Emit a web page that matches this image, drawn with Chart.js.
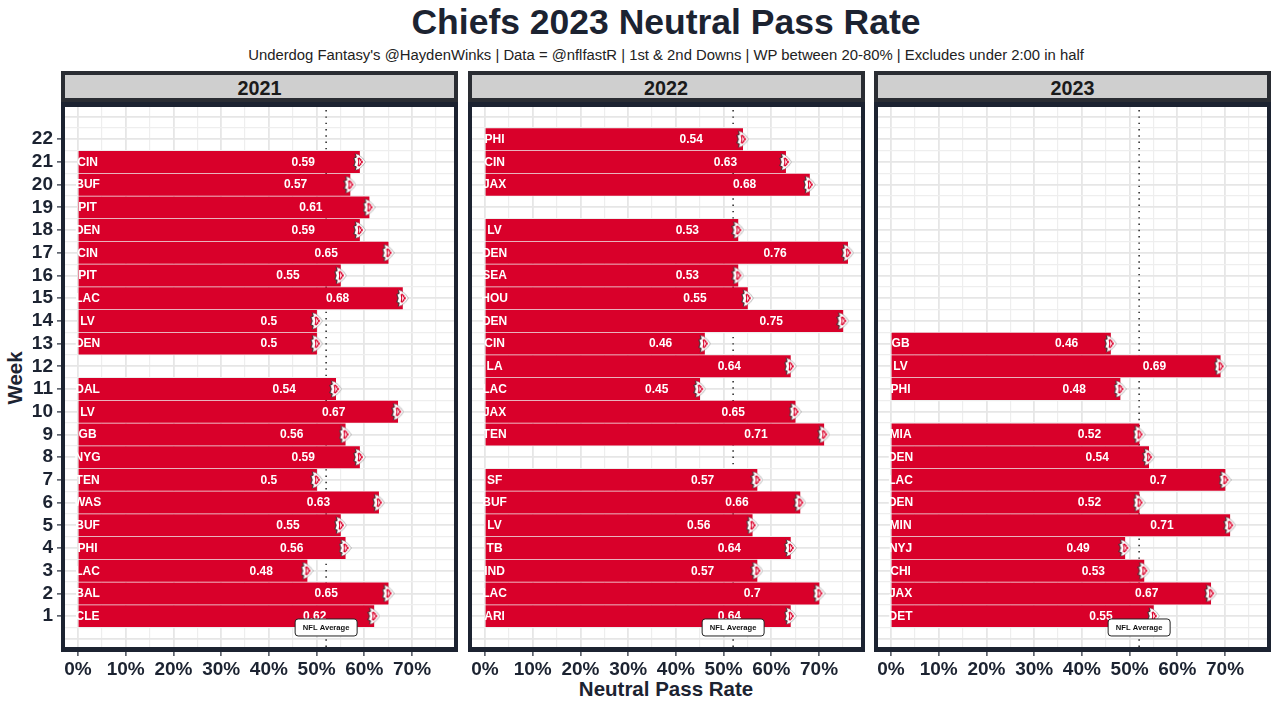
<!DOCTYPE html>
<html lang="en">
<head>
<meta charset="UTF-8">
<title>Chiefs 2023 Neutral Pass Rate</title>
<script src="https://cdn.jsdelivr.net/npm/chart.js"></script>
<style>
  html, body { margin: 0; padding: 0; background: #fff; width: 1280px; height: 709px; overflow: hidden; }
  body { font-family: 'Liberation Sans', Arial, sans-serif; color: #1c2331; position: relative; }
  canvas { position: absolute; top: 0; }
  .txt { position: absolute; white-space: nowrap; text-align: center; }
  #title { left: 0; width: 1332px; top: 0; font-size: 35.5px; line-height: 44px; font-weight: 700; }
  #subtitle { left: 0; width: 1332px; top: 46px; font-size: 14.85px; line-height: 18px; color: #222; }
  #xlabel { left: 466px; width: 400px; top: 678px; font-size: 20.5px; line-height: 22px; font-weight: 700; }
  #ylabel { left: 15px; top: 378px; font-size: 20.5px; line-height: 22px; font-weight: 700; transform: translate(-50%, -50%) rotate(-90deg); }
  .strip { position: absolute; top: 71px; height: 23px; width: 389px; border: 4px solid #2a2d33; background: #cfcfcf;
           font-size: 19.8px; line-height: 26px; font-weight: 700; text-align: center; color: #1a1a1a; }
  .frame { position: absolute; top: 102px; height: 540px; width: 389px; border: 4px solid #1c2331; border-top-width: 5px; border-bottom-width: 5px; pointer-events: none; }
</style>
</head>
<body>
<div class="txt" id="title">Chiefs 2023 Neutral Pass Rate</div>
<div class="txt" id="subtitle">Underdog Fantasy's @HaydenWinks | Data = @nflfastR | 1st &amp; 2nd Downs | WP between 20-80% | Excludes under 2:00 in half</div>
<div class="txt" id="xlabel">Neutral Pass Rate</div>
<div class="txt" id="ylabel">Week</div>

<script>
const weeks2021 = [21, 20, 19, 18, 17, 16, 15, 14, 13, 11, 10, 9, 8, 7, 6, 5, 4, 3, 2, 1];
const opp2021 = ['CIN', 'BUF', 'PIT', 'DEN', 'CIN', 'PIT', 'LAC', 'LV', 'DEN', 'DAL', 'LV', 'GB', 'NYG', 'TEN', 'WAS', 'BUF', 'PHI', 'LAC', 'BAL', 'CLE'];
const rate2021 = [0.59, 0.57, 0.61, 0.59, 0.65, 0.55, 0.68, 0.5, 0.5, 0.54, 0.67, 0.56, 0.59, 0.5, 0.63, 0.55, 0.56, 0.48, 0.65, 0.62];

const weeks2022 = [22, 21, 20, 18, 17, 16, 15, 14, 13, 12, 11, 10, 9, 7, 6, 5, 4, 3, 2, 1];
const opp2022 = ['PHI', 'CIN', 'JAX', 'LV', 'DEN', 'SEA', 'HOU', 'DEN', 'CIN', 'LA', 'LAC', 'JAX', 'TEN', 'SF', 'BUF', 'LV', 'TB', 'IND', 'LAC', 'ARI'];
const rate2022 = [0.54, 0.63, 0.68, 0.53, 0.76, 0.53, 0.55, 0.75, 0.46, 0.64, 0.45, 0.65, 0.71, 0.57, 0.66, 0.56, 0.64, 0.57, 0.7, 0.64];

const weeks2023 = [13, 12, 11, 9, 8, 7, 6, 5, 4, 3, 2, 1];
const opp2023 = ['GB', 'LV', 'PHI', 'MIA', 'DEN', 'LAC', 'DEN', 'MIN', 'NYJ', 'CHI', 'JAX', 'DET'];
const rate2023 = [0.46, 0.69, 0.48, 0.52, 0.54, 0.7, 0.52, 0.71, 0.49, 0.53, 0.67, 0.55];

const nflAverage = 0.52;
const xTicks = [0, 0.05, 0.1, 0.15, 0.2, 0.25, 0.3, 0.35, 0.4, 0.45, 0.5, 0.55, 0.6, 0.65, 0.7, 0.75];
const yTicks = [];
for (let w = 0; w <= 23; w += 0.5) yTicks.push(w);

const xMin = -0.0273, xMax = 0.788;
const yMin = -0.36, yMax = 23.42;

const DARK = '#1c2331';
const RED = '#d9002a';

// arrowhead logo, drawn once and used as the point style
function makeLogo() {
  const c = document.createElement('canvas');
  c.width = 13; c.height = 18;
  const g = c.getContext('2d');
  // white arrowhead
  g.beginPath();
  g.moveTo(2.2, 0.8);
  g.lineTo(5.5, 1.8);
  g.quadraticCurveTo(10, 4.5, 12.4, 9);
  g.quadraticCurveTo(10, 13.5, 5.5, 16.2);
  g.lineTo(2.2, 17.2);
  g.lineTo(3.2, 13.8);
  g.lineTo(0.8, 12.8);
  g.lineTo(2.2, 9);
  g.lineTo(0.8, 5.2);
  g.lineTo(3.2, 4.2);
  g.closePath();
  g.fillStyle = '#fff';
  g.fill();
  g.strokeStyle = 'rgba(60,60,60,0.5)';
  g.lineWidth = 0.7;
  g.stroke();
  // dark tail edge
  g.beginPath();
  g.moveTo(2.2, 0.8);
  g.lineTo(3.2, 4.2);
  g.lineTo(0.8, 5.2);
  g.lineTo(2.2, 9);
  g.lineTo(0.8, 12.8);
  g.lineTo(3.2, 13.8);
  g.lineTo(2.2, 17.2);
  g.strokeStyle = '#333';
  g.lineWidth = 0.9;
  g.stroke();
  // red centre
  g.beginPath();
  g.moveTo(4.6, 5);
  g.lineTo(6.4, 4.5);
  g.quadraticCurveTo(8.8, 6.4, 10, 9);
  g.quadraticCurveTo(8.8, 11.6, 6.4, 13.5);
  g.lineTo(4.6, 13);
  g.lineTo(5.2, 9);
  g.closePath();
  g.fillStyle = RED;
  g.fill();
  // KC letters
  g.fillStyle = '#fff';
  g.fillRect(6.1, 6.4, 0.8, 5.2);
  g.beginPath();
  g.moveTo(7, 9);
  g.lineTo(8.6, 7.2);
  g.moveTo(7, 9);
  g.lineTo(8.6, 10.8);
  g.strokeStyle = '#fff';
  g.lineWidth = 0.8;
  g.stroke();
  return c;
}
const logo = makeLogo();

const labelsPlugin = {
  id: 'labels',
  afterDatasetsDraw(chart, args, opts) {
    const { ctx, scales: { x, y } } = chart;
    ctx.save();
    ctx.font = 'bold 12px "Liberation Sans"';
    ctx.textAlign = 'center';
    ctx.textBaseline = 'middle';
    ctx.fillStyle = '#fff';
    opts.weeks.forEach((w, i) => {
      const py = y.getPixelForValue(w) + 0.5;
      ctx.fillText(opts.opp[i], x.getPixelForValue(0.02), py);
      ctx.fillText(String(opts.rate[i]), x.getPixelForValue(opts.rate[i] * 0.8), py);
    });
    // NFL Average tag
    const bx = x.getPixelForValue(nflAverage);
    const by = y.getPixelForValue(0.5);
    ctx.beginPath();
    ctx.roundRect(bx - 31, by - 8.5, 62, 17, 3);
    ctx.fillStyle = '#fff';
    ctx.fill();
    ctx.strokeStyle = '#222';
    ctx.lineWidth = 1;
    ctx.stroke();
    ctx.fillStyle = '#111';
    ctx.font = 'bold 7.6px "Liberation Sans"';
    ctx.fillText('NFL Average', bx, by + 0.5);
    ctx.restore();
  }
};

function drawPanel(year, innerLeft, weeks, opp, rate, showWeeks) {
  const axisW = 65, innerW = 389;
  const canvasLeft = innerLeft - axisW;

  const strip = document.createElement('div');
  strip.className = 'strip';
  strip.style.left = (innerLeft - 4) + 'px';
  strip.textContent = year;

  const cv = document.createElement('canvas');
  cv.width = axisW + innerW + 1;
  cv.height = 709;
  cv.style.left = canvasLeft + 'px';

  const frame = document.createElement('div');
  frame.className = 'frame';
  frame.style.left = (innerLeft - 4) + 'px';

  document.body.append(cv, frame, strip);

  new Chart(cv.getContext('2d'), {
    type: 'bar',
    data: {
      datasets: [
        {
          type: 'scatter',
          data: weeks.map((w, i) => ({ x: rate[i], y: w })),
          pointStyle: logo,
          order: 0
        },
        {
          type: 'bar',
          data: weeks.map((w, i) => ({ x: rate[i], y: w })),
          backgroundColor: RED,
          barThickness: 21.3,
          order: 1
        },
        {
          type: 'scatter',
          showLine: true,
          data: [{ x: nflAverage, y: yMin }, { x: nflAverage, y: yMax }],
          borderColor: '#333',
          borderWidth: 1.6,
          borderDash: [1.4, 4.9],
          pointRadius: 0,
          order: 2
        }
      ]
    },
    options: {
      indexAxis: 'y',
      responsive: false,
      animation: false,
      layout: { autoPadding: false, padding: { top: 107, right: 1, left: 0, bottom: 0 } },
      plugins: {
        legend: { display: false },
        tooltip: { enabled: false },
        labels: { weeks, opp, rate }
      },
      scales: {
        x: {
          type: 'linear',
          min: xMin,
          max: xMax,
          afterBuildTicks: s => { s.ticks = xTicks.map(v => ({ value: v })); },
          afterFit: s => { s.height = 62; },
          grid: {
            color: c => Math.round(c.tick.value * 100) % 10 === 0 ? '#e6e6e6' : '#eeeeee',
            lineWidth: c => Math.round(c.tick.value * 100) % 10 === 0 ? 1.8 : 1.2,
            tickColor: c => Math.round(c.tick.value * 100) % 10 === 0 ? DARK : 'transparent',
            tickWidth: 1.2,
            tickLength: 9
          },
          border: { display: false },
          ticks: {
            autoSkip: false,
            maxRotation: 0,
            minRotation: 0,
            padding: 2,
            color: DARK,
            font: { family: 'Liberation Sans', size: 19, weight: 'bold' },
            callback: v => Math.round(v * 100) % 10 === 0 ? Math.round(v * 100) + '%' : ''
          }
        },
        y: {
          type: 'linear',
          min: yMin,
          max: yMax,
          offset: false,
          afterBuildTicks: s => { s.ticks = yTicks.map(v => ({ value: v })); },
          afterFit: s => { s.width = axisW; },
          grid: {
            offset: false,
            color: c => Number.isInteger(c.tick.value) ? '#e6e6e6' : '#eeeeee',
            lineWidth: c => Number.isInteger(c.tick.value) ? 1.8 : 1.2,
            tickColor: c => (showWeeks && Number.isInteger(c.tick.value) && c.tick.value >= 1 && c.tick.value <= 22) ? DARK : 'transparent',
            tickWidth: 1.2,
            tickLength: 8
          },
          border: { display: false },
          ticks: {
            display: showWeeks,
            autoSkip: false,
            padding: 4,
            color: DARK,
            font: { family: 'Liberation Sans', size: 19, weight: 'bold' },
            callback: v => (Number.isInteger(v) && v >= 1 && v <= 22) ? String(v) : ''
          }
        }
      }
    },
    plugins: [labelsPlugin]
  });
}

drawPanel('2021', 65, weeks2021, opp2021, rate2021, true);
drawPanel('2022', 471.5, weeks2022, opp2022, rate2022, false);
drawPanel('2023', 878, weeks2023, opp2023, rate2023, false);
</script>
</body>
</html>
